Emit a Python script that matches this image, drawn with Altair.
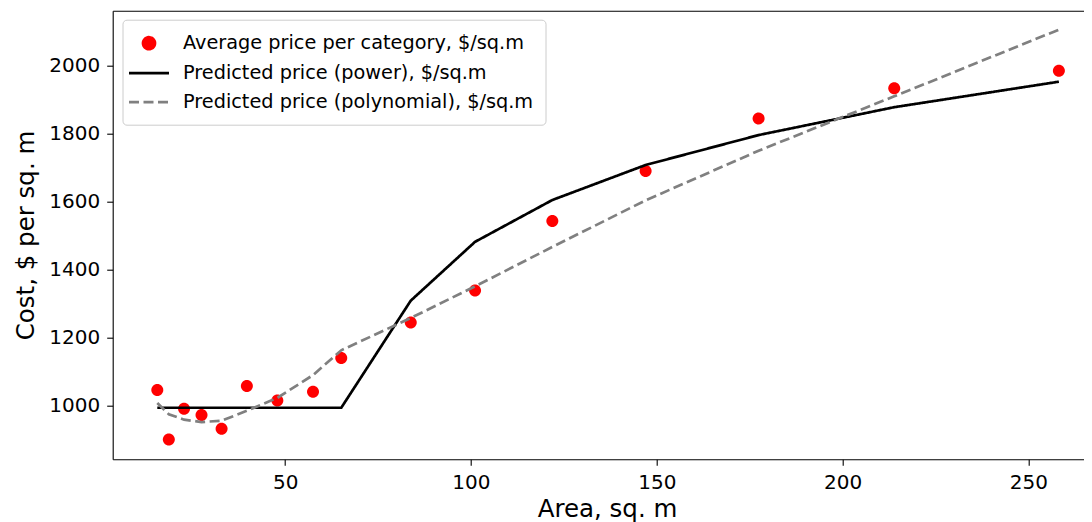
import altair as alt
import pandas as pd

# ---- data ----
areas = [15.6, 18.7, 22.8, 27.5, 32.9, 39.7, 47.9, 57.5, 65.1, 83.8, 101.1, 121.9, 147.0, 177.4, 213.9, 258.2]
avg_price = [1046, 901, 991, 973, 932, 1058, 1015, 1041, 1140, 1245, 1339, 1543, 1690, 1845, 1934, 1985]
power_pred = [994, 994, 994, 994, 994, 994, 994, 994, 994, 1309, 1482, 1605, 1708, 1796, 1878, 1953]
poly_pred = [1008, 975, 959, 952, 956, 985, 1023, 1090, 1163, 1258, 1351, 1467, 1604, 1750, 1910, 2106]

x_ticks = [50, 100, 150, 200, 250]
y_ticks = [1000, 1200, 1400, 1600, 1800, 2000]

S_AVG = "Average price per category, $/sq.m"
S_POW = "Predicted price (power), $/sq.m"
S_POLY = "Predicted price (polynomial), $/sq.m"
series_order = [S_AVG, S_POW, S_POLY]

pts = pd.DataFrame({"area": areas, "price": avg_price, "series": S_AVG})
lines = pd.concat([
    pd.DataFrame({"area": areas, "price": power_pred, "series": S_POW}),
    pd.DataFrame({"area": areas, "price": poly_pred, "series": S_POLY}),
], ignore_index=True)

FONT = "DejaVu Sans"
CIRCLE = "M-0.6,0A0.6,0.6,0,1,1,0.6,0A0.6,0.6,0,1,1,-0.6,0Z"
STROKE = "M-2,0L2,0"

legend = alt.Legend(
    title=None, orient="none", legendX=9.8, legendY=9.0,
    labelFontSize=19.3, labelFont=FONT, labelColor="black", labelLimit=0,
    symbolSize=400, symbolStrokeWidth=2.7, symbolOffset=3, labelOffset=22.5,
    padding=12, rowPadding=7.0, strokeColor="#cccccc", fillColor="rgba(255,255,255,0.8)",
    cornerRadius=4,
)

color = alt.Color("series:N", scale=alt.Scale(domain=series_order, range=["#ff0000", "#000000", "#808080"]), legend=legend)
shape = alt.Shape("series:N", scale=alt.Scale(domain=series_order, range=[CIRCLE, STROKE, STROKE]), legend=legend)
dash = alt.StrokeDash("series:N", scale=alt.Scale(domain=series_order, range=[[1, 0], [1, 0], [10, 4.5]]), legend=legend)

xscale = alt.Scale(domain=[3.6, 264.96], nice=False, zero=False)
yscale = alt.Scale(domain=[842.4, 2161.8], nice=False, zero=False)

y_enc = alt.Y("price:Q", scale=yscale, axis=alt.Axis(
    values=y_ticks, format="d", title="Cost, $ per sq. m", tickSize=6, labelPadding=7,
    labelFontSize=20, titleFontSize=24.5, titleFontWeight="normal",
    titleX=-79.7, titleY=224.3, titleBaseline="alphabetic", titleAngle=270))

points = alt.Chart(pts).mark_point(filled=True, size=400, opacity=1).encode(
    x=alt.X("area:Q", scale=xscale, axis=alt.Axis(
        values=x_ticks, format="d", title="Area, sq. m", tickSize=6, labelPadding=7,
        labelFontSize=20, titleFontSize=24.5, titleFontWeight="normal",
        titleX=494.3, titleY=56.7, titleBaseline="alphabetic", titleAlign="center")),
    y=y_enc,
    color=color,
    shape=shape,
)

line_layer = alt.Chart(lines).mark_line(strokeWidth=2.7).encode(
    x=alt.X("area:Q", scale=xscale, axis=alt.Axis(orient="top", labels=False, ticks=False, title=None, domain=True)),
    y=y_enc,
    color=color,
    strokeDash=dash,
    detail="series:N",
)

chart = alt.layer(points, line_layer).resolve_axis(x="independent").properties(
    width=971.3, height=448.6,
    autosize=alt.AutoSizeParams(type="none"),
    padding={"left": 104.7, "top": 2.7, "right": 0, "bottom": 62.7},
).configure_view(stroke=None).configure_axis(
    labelFont=FONT, titleFont=FONT, labelColor="black", titleColor="black",
    tickColor="black", domainColor="black", tickWidth=1.1, domainWidth=1.1, grid=False,
)

chart.save("out.html", embed_options={"renderer": "svg", "actions": False})
